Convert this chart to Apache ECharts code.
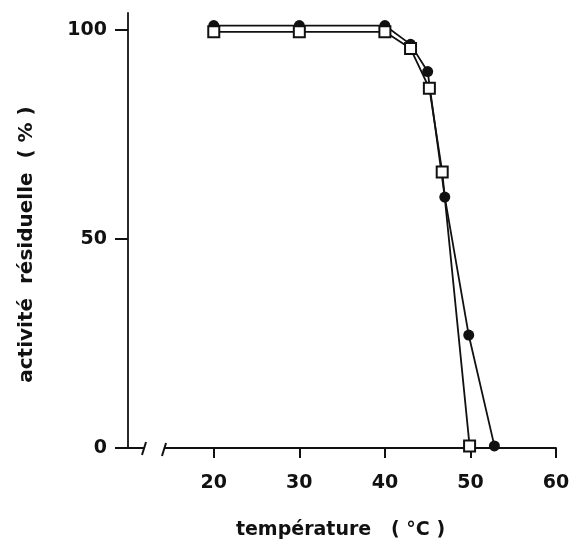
<!DOCTYPE html>
<html>
<head>
<meta charset="utf-8">
<script src="https://cdn.jsdelivr.net/npm/echarts@6/dist/echarts.min.js"></script>
<style>
    html, body { margin: 0; padding: 0; background: #fff; }
    #chart { width: 574px; height: 545px; }
</style>
</head>
<body>
<div id="chart"></div>
<script>
    // temperature (°C) / residual activity (%)
    var circleTemp = [20, 30, 40, 43, 45, 47, 49.8, 52.8];
    var circleAct = [101, 101, 101, 96.5, 90, 60, 27, 0.5];
    var squareTemp = [20, 30, 40, 43, 45.2, 46.7, 49.9];
    var squareAct = [99.5, 99.5, 99.5, 95.5, 86, 66, 0.5];
    var xTicks = [20, 30, 40, 50, 60];
    var yTicks = [0, 50, 100];

    function pairs(xs, ys) {
        return xs.map(function (x, i) { return [x, ys[i]]; });
    }

    var font = 'DejaVu Sans';
    var myChart = echarts.init(document.getElementById('chart'));
    var option = {
        animation: false,
        backgroundColor: '#fff',
        grid: { left: 165, right: 18, top: 13, bottom: 95 },
        xAxis: {
            type: 'value',
            min: 14.3,
            max: 60,
            name: 'température   ( °C )',
            nameLocation: 'middle',
            nameGap: 73,
            nameTextStyle: { fontFamily: font, fontSize: 19, fontWeight: 'bold', color: '#111', padding: [0, 40, 0, 0] },
            axisLine: { lineStyle: { color: '#111', width: 1.8 } },
            axisTick: { customValues: xTicks, length: 10, lineStyle: { color: '#111', width: 2 } },
            axisLabel: { customValues: xTicks, margin: 26, fontFamily: font, fontSize: 19, fontWeight: 'bold', color: '#111' },
            splitLine: { show: false }
        },
        yAxis: {
            type: 'value',
            min: 0,
            max: 104,
            offset: 37,
            name: 'activité  résiduelle  ( % )',
            nameLocation: 'middle',
            nameGap: 91,
            nameTextStyle: { fontFamily: font, fontSize: 20, fontWeight: 'bold', color: '#111', padding: [0, 28, 0, 0] },
            axisLine: { show: true, lineStyle: { color: '#111', width: 1.8 } },
            axisTick: { customValues: yTicks, length: 13, lineStyle: { color: '#111', width: 2 } },
            axisLabel: { customValues: yTicks, margin: 21, fontFamily: font, fontSize: 19, fontWeight: 'bold', color: '#111' },
            splitLine: { show: false }
        },
        series: [
            {
                type: 'line',
                data: pairs(squareTemp, squareAct),
                symbol: 'rect',
                symbolSize: 11,
                itemStyle: { color: '#fff', borderColor: '#111', borderWidth: 2 },
                lineStyle: { color: '#111', width: 1.8 },
                z: 3
            },
            {
                type: 'line',
                data: pairs(circleTemp, circleAct),
                symbol: 'circle',
                symbolSize: 11,
                itemStyle: { color: '#111', borderWidth: 0 },
                lineStyle: { color: '#111', width: 1.8 },
                z: 2
            }
        ]
    };
    myChart.setOption(option);

    // axis break marks next to the origin
    var origin = myChart.convertToPixel({ gridIndex: 0 }, [14.3, 0]);
    var y0 = origin[1];
    var ax = origin[0] - 37;
    var ls = { stroke: '#111', lineWidth: 2 };
    myChart.setOption({
        graphic: [
            { type: 'line', shape: { x1: ax, y1: y0, x2: ax + 16, y2: y0 }, style: ls },
            { type: 'line', shape: { x1: ax + 14, y1: y0 + 7, x2: ax + 18, y2: y0 - 6 }, style: ls },
            { type: 'line', shape: { x1: origin[0] - 3, y1: y0 + 8, x2: origin[0] + 1, y2: y0 - 5 }, style: ls }
        ]
    });
</script>
</body>
</html>
